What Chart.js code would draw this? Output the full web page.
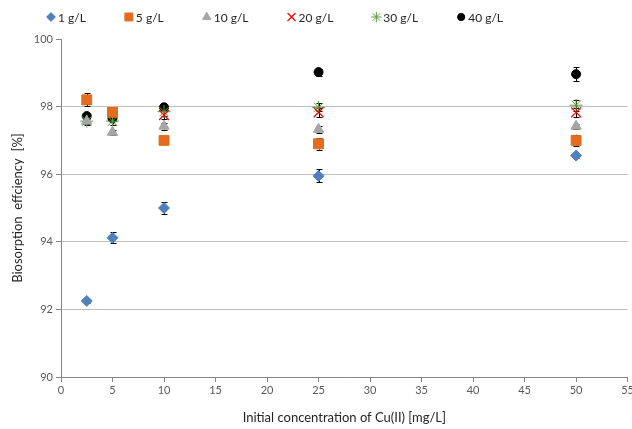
<!DOCTYPE html>
<html>
<head>
<meta charset="utf-8">
<script src="https://cdn.jsdelivr.net/npm/chart.js@4"></script>
<style>
  html, body { margin: 0; padding: 0; background: #fff; }
  #outer { width: 632px; height: 429px; overflow: hidden; }
  #wrap { width: 636px; height: 429px; }
</style>
</head>
<body>
<div id="outer"><div id="wrap"><canvas id="chart"></canvas></div></div>
<script>
const concentrations = [2.5, 5, 10, 25, 50];

const dose1 = [92.25, 94.12, 95.0, 95.95, 96.55];
const dose5 = [98.2, 97.83, 97.0, 96.9, 97.0];
const dose10 = [97.57, 97.24, 97.42, 97.33, 97.42];
const dose20 = [98.2, 97.83, 97.75, 97.83, 97.83];
const dose30 = [97.57, 97.57, 97.85, 97.98, 98.04];
const dose40 = [97.72, 97.65, 97.98, 99.02, 98.96];

const err1 = [0.05, 0.17, 0.17, 0.19, 0.06];
const err5 = [0.19, 0.1, 0.12, 0.17, 0.17];
const err10 = [0.08, 0.08, 0.1, 0.1, 0.08];
const err20 = [0.12, 0.1, 0.12, 0.14, 0.14];
const err30 = [0.1, 0.1, 0.12, 0.12, 0.16];
const err40 = [0.08, 0.08, 0.08, 0.1, 0.21];

const xTicks = [0, 5, 10, 15, 20, 25, 30, 35, 40, 45, 50, 55];
const yTicks = [90, 92, 94, 96, 98, 100];

const FONT = 'Lato, "Open Sans", sans-serif';

function points(values) {
  return values.map((v, i) => ({ x: concentrations[i], y: v }));
}

function series(label, values, errors, style, color, radius, borderWidth) {
  return {
    label: label,
    data: points(values),
    errors: errors,
    pointStyle: style,
    pointRadius: radius,
    pointHoverRadius: radius,
    pointBorderWidth: borderWidth,
    backgroundColor: color,
    borderColor: color,
  };
}

// vertical error bars, drawn under the markers
const errorBars = {
  id: 'errorBars',
  beforeDatasetsDraw(chart) {
    const ctx = chart.ctx;
    const xs = chart.scales.x, ys = chart.scales.y;
    ctx.save();
    ctx.strokeStyle = '#000';
    ctx.lineWidth = 1;
    chart.data.datasets.forEach(ds => {
      ds.data.forEach((p, j) => {
        const e = ds.errors[j];
        const x = Math.round(xs.getPixelForValue(p.x)) + 0.5;
        const y1 = ys.getPixelForValue(p.y + e);
        const y2 = ys.getPixelForValue(p.y - e);
        ctx.beginPath();
        ctx.moveTo(x, y1); ctx.lineTo(x, y2);
        ctx.moveTo(x - 3, Math.round(y1) + 0.5); ctx.lineTo(x + 3, Math.round(y1) + 0.5);
        ctx.moveTo(x - 3, Math.round(y2) + 0.5); ctx.lineTo(x + 3, Math.round(y2) + 0.5);
        ctx.stroke();
      });
    });
    ctx.restore();
  }
};

// legend row across the top, in the style of the original
const topLegend = {
  id: 'topLegend',
  afterDraw(chart) {
    const ctx = chart.ctx;
    ctx.save();
    ctx.font = '12px ' + FONT;
    ctx.textBaseline = 'middle';
    let x = 47;
    const y = 17;
    chart.data.datasets.forEach(ds => {
      ctx.fillStyle = ds.backgroundColor;
      ctx.strokeStyle = ds.borderColor;
      ctx.lineWidth = ds.pointBorderWidth;
      Chart.helpers.drawPoint(ctx, {
        pointStyle: ds.pointStyle,
        radius: ds.pointRadius * 0.8,
        rotation: 0,
        borderWidth: ds.pointBorderWidth
      }, x + 4, y);
      ctx.fillStyle = '#262626';
      ctx.fillText(ds.label, x + 11, y + 1);
      x += 11 + ctx.measureText(ds.label).width + 39;
    });
    ctx.restore();
  }
};

const data = {
  datasets: [
    series('1 g/L', dose1, err1, 'rectRot', '#4F81BD', 5.5, 1),
    series('5 g/L', dose5, err5, 'rect', '#E36C1E', 7, 1),
    series('10 g/L', dose10, err10, 'triangle', '#A5A5A5', 6, 1),
    series('20 g/L', dose20, err20, 'crossRot', '#FF0000', 7, 1.2),
    series('30 g/L', dose30, err30, 'star', '#5E9B3E', 6.5, 1),
    series('40 g/L', dose40, err40, 'circle', '#000000', 4.5, 1),
  ],
};

const config = {
  type: 'scatter',
  data: data,
  options: {
    responsive: true,
    maintainAspectRatio: false,
    animation: false,
    layout: {
      padding: { top: 39, right: 0, bottom: 0, left: 0 },
    },
    plugins: {
      legend: { display: false },
      tooltip: { enabled: false },
    },
    scales: {
      x: {
        type: 'linear',
        min: 0,
        max: 55,
        afterBuildTicks: s => { s.ticks = xTicks.map(v => ({ value: v })); },
        afterFit: s => { s.height = 52; },
        border: { color: '#868686' },
        grid: { drawOnChartArea: false, tickLength: 5, tickColor: '#868686' },
        ticks: { color: '#595959', font: { family: FONT, size: 11 }, padding: 2, maxRotation: 0 },
        title: {
          display: true,
          text: 'Initial concentration of Cu(II) [mg/L]',
          color: '#262626',
          font: { family: FONT, size: 13 },
          padding: { top: 0, bottom: 3 },
        },
      },
      y: {
        min: 90,
        max: 100,
        afterBuildTicks: s => { s.ticks = yTicks.map(v => ({ value: v })); },
        afterFit: s => { s.width = 61; },
        border: { color: '#868686' },
        grid: {
          color: c => (c.tick && c.tick.value === 100 ? 'rgba(0,0,0,0)' : '#BFBFBF'),
          tickLength: 5,
          tickColor: '#868686',
        },
        ticks: { color: '#595959', font: { family: FONT, size: 11 }, padding: 3 },
        title: {
          display: true,
          text: 'Biosorption  effciency  [%]',
          color: '#262626',
          font: { family: FONT, size: 13 },
          padding: { top: 10, bottom: 0 },
        },
      },
    },
  },
  plugins: [errorBars, topLegend],
};

const myChart = new Chart(document.getElementById('chart'), config);
</script>
</body>
</html>
